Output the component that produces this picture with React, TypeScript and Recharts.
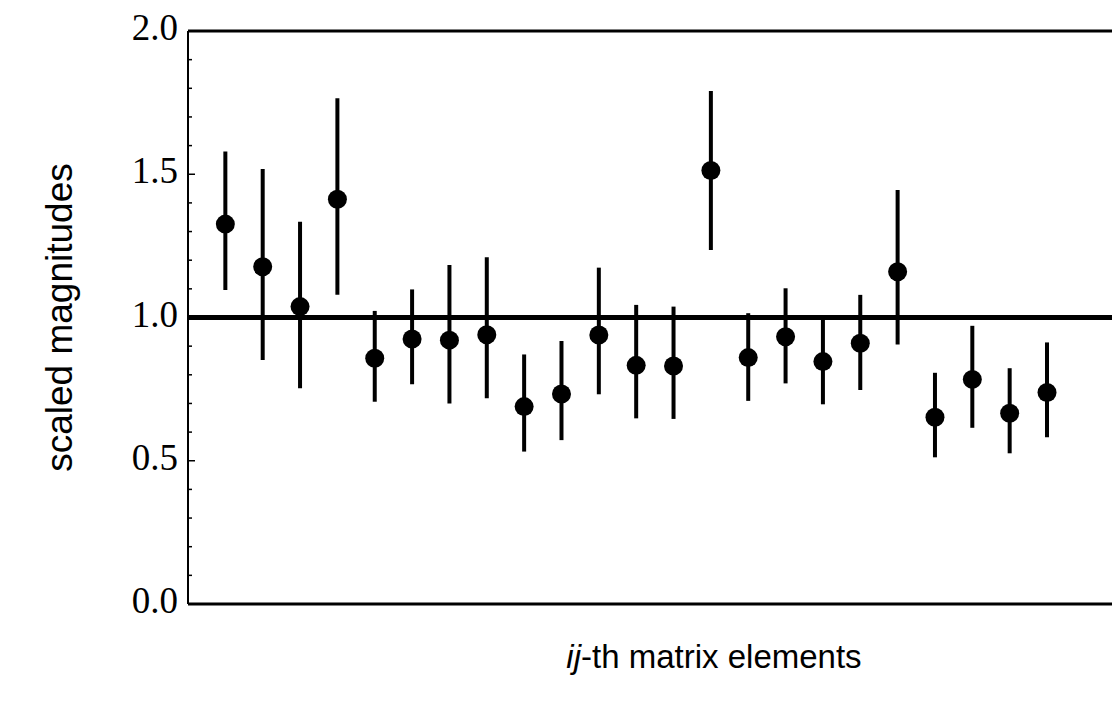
import React from "react";
import { ScatterChart, Scatter, XAxis, YAxis, ErrorBar, ReferenceLine, Label } from "recharts";

const elementIndex = [1, 2, 3, 4, 5, 6, 7, 8, 9, 10, 11, 12, 13, 14, 15, 16, 17, 18, 19, 20, 21, 22, 23];
const magnitudes = [1.326, 1.177, 1.038, 1.413, 0.858, 0.925, 0.921, 0.94, 0.689, 0.733, 0.939, 0.833, 0.831, 1.513, 0.86, 0.933, 0.846, 0.91, 1.16, 0.652, 0.784, 0.666, 0.738];
const upperBounds = [1.579, 1.518, 1.334, 1.765, 1.023, 1.098, 1.183, 1.21, 0.871, 0.918, 1.174, 1.044, 1.038, 1.791, 1.015, 1.102, 1.003, 1.079, 1.445, 0.807, 0.971, 0.823, 0.913];
const lowerBounds = [1.096, 0.852, 0.753, 1.079, 0.706, 0.767, 0.7, 0.718, 0.532, 0.572, 0.732, 0.648, 0.646, 1.236, 0.709, 0.77, 0.697, 0.747, 0.906, 0.512, 0.615, 0.526, 0.582];
const yTicks = [0, 0.1, 0.2, 0.3, 0.4, 0.5, 0.6, 0.7, 0.8, 0.9, 1.0, 1.1, 1.2, 1.3, 1.4, 1.5, 1.6, 1.7, 1.8, 1.9, 2.0];
const xDomain = [0, 24.74];
const referenceValue = 1;

const data = elementIndex.map((x, i) => ({
  x,
  y: magnitudes[i],
  err: [magnitudes[i] - lowerBounds[i], upperBounds[i] - magnitudes[i]],
}));

const SERIF = "'Liberation Serif', 'Times New Roman', serif";
const SANS = "'Liberation Sans', Arial, sans-serif";

const YTick = (props: any) => {
  const { x, y, payload } = props;
  const v = payload.value;
  const major = Math.abs(v * 2 - Math.round(v * 2)) < 1e-6;
  return (
    <g>
      <line x1={x} x2={x + (major ? 7 : 4)} y1={y} y2={y} stroke="#000" strokeWidth={1.5} />
      {major && (
        <text x={x - 10} y={y + 9} textAnchor="end" fontFamily={SERIF} fontSize={37} fill="#000">
          {v.toFixed(1)}
        </text>
      )}
    </g>
  );
};

const Dot = (props: any) => <circle cx={props.cx} cy={props.cy} r={9.5} fill="#000" />;

const YLabel = (props: any) => {
  const vb = props.viewBox || {};
  const cx = 72;
  const cy = vb.y + vb.height / 2;
  return (
    <text
      x={cx}
      y={cy}
      transform={`rotate(-90, ${cx}, ${cy})`}
      textAnchor="middle"
      fontFamily={SANS}
      fontSize={37}
      fill="#000"
    >
      scaled magnitudes
    </text>
  );
};

const XLabel = (props: any) => {
  const vb = props.viewBox || {};
  return (
    <text x={714} y={vb.y + 64} textAnchor="middle" fontFamily={SANS} fontSize={33} fill="#000">
      <tspan fontStyle="italic">ij</tspan>
      <tspan>-th matrix elements</tspan>
    </text>
  );
};

export default function App() {
  return (
    <div style={{ position: "absolute", left: 0, top: 0, width: 1112, height: 704, background: "#fff" }}>
      <ScatterChart width={1112} height={704} margin={{ top: 31, right: 0, bottom: 0, left: 0 }}>
        <XAxis
          type="number"
          dataKey="x"
          domain={xDomain}
          height={100}
          axisLine={{ stroke: "#000", strokeWidth: 3 }}
          tick={false}
          tickLine={false}
        >
          <Label content={XLabel} />
        </XAxis>
        <YAxis
          type="number"
          dataKey="y"
          domain={[0, 2]}
          ticks={yTicks}
          interval={0}
          width={188}
          axisLine={{ stroke: "#000", strokeWidth: 2 }}
          tickLine={false}
          tickSize={0}
          tickMargin={0}
          tick={<YTick />}
        >
          <Label content={YLabel} />
        </YAxis>
        <ReferenceLine y={2} stroke="#000" strokeWidth={3} />
        <ReferenceLine y={referenceValue} stroke="#000" strokeWidth={5} />
        <Scatter data={data} fill="#000" shape={Dot} isAnimationActive={false}>
          <ErrorBar dataKey="err" direction="y" width={0} strokeWidth={4} stroke="#000" />
        </Scatter>
      </ScatterChart>
    </div>
  );
}
